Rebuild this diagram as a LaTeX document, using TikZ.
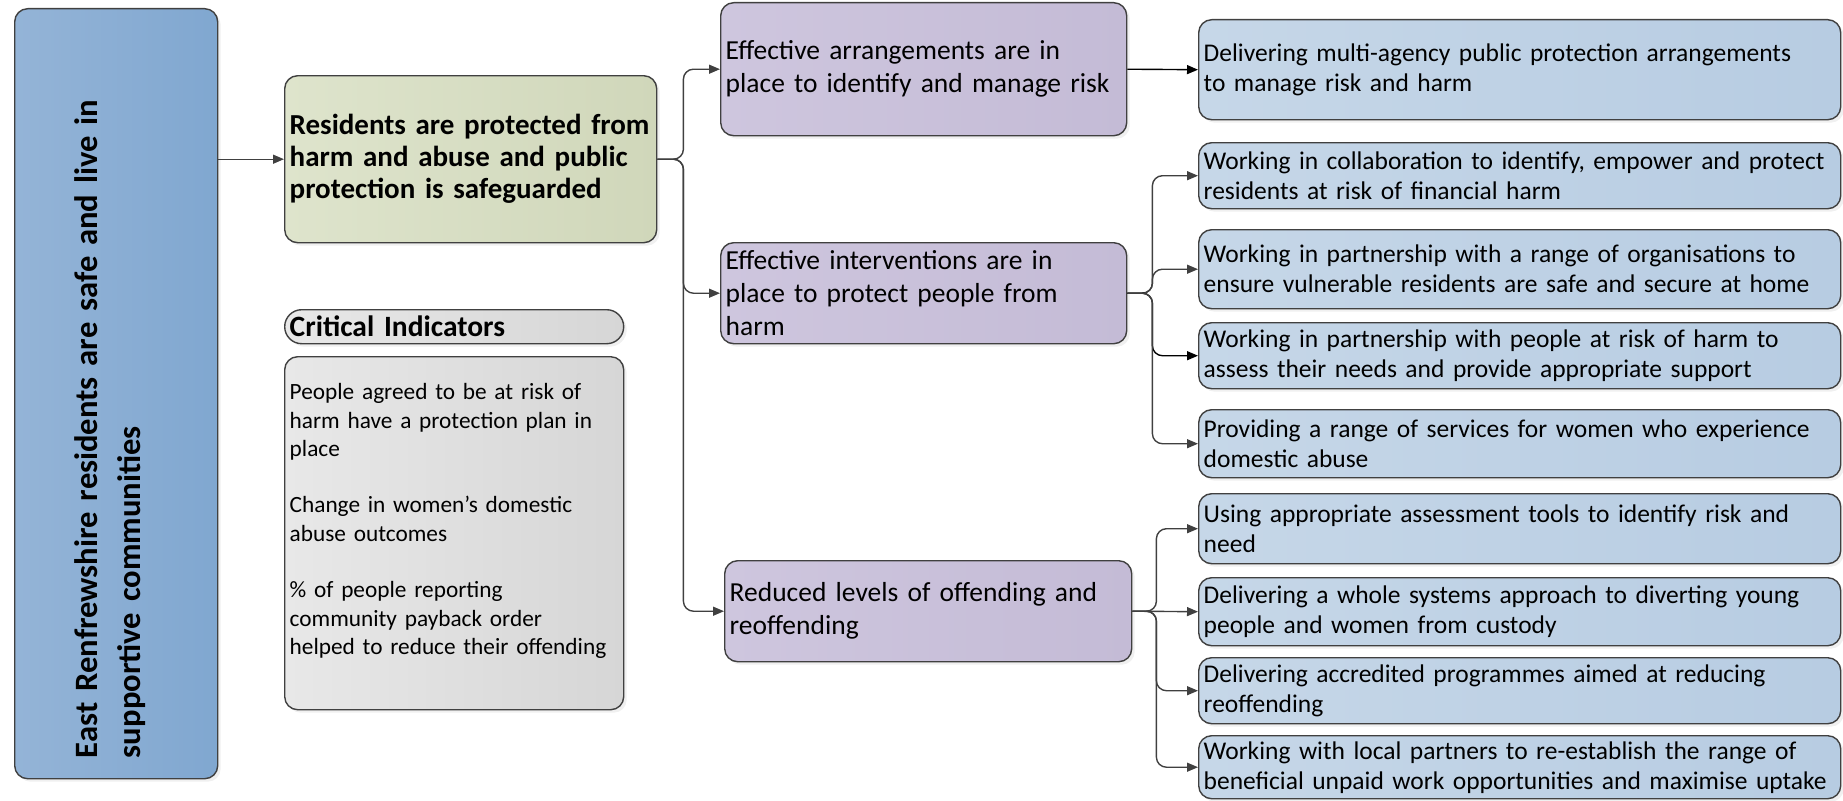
\documentclass[tikz,border=0pt]{standalone}
\usepackage{fontspec}
\setmainfont{Carlito}
\usetikzlibrary{arrows.meta,shadows}

\definecolor{lineg}{RGB}{64,64,64}
\definecolor{lbA}{RGB}{148,180,215}
\definecolor{lbB}{RGB}{128,167,208}
\definecolor{grA}{RGB}{222,228,204}
\definecolor{grB}{RGB}{208,215,186}
\definecolor{gyA}{RGB}{232,232,232}
\definecolor{gyB}{RGB}{214,214,214}
\definecolor{puA}{RGB}{206,198,222}
\definecolor{puB}{RGB}{196,187,214}
\definecolor{blA}{RGB}{198,215,232}
\definecolor{blB}{RGB}{183,204,226}

\begin{document}
\begin{tikzpicture}[x=1pt,y=-1pt,
  box/.style={draw=lineg, line width=1.4pt, rounded corners=13pt, anchor=north west,
    inner xsep=5pt, inner ysep=0pt, align=left,
    drop shadow={shadow xshift=3pt, shadow yshift=-3pt, opacity=0.12}},
  aim/.style={box, left color=puA, right color=puB, text width=396pt,
    font=\fontsize{27.5}{33}\selectfont},
  outc/.style={box, left color=blA, right color=blB, text width=632pt,
    font=\fontsize{25.5}{30}\selectfont},
  link/.style={lineg, line width=1.4pt, rounded corners=10pt, -{Triangle[length=11pt,width=9pt]}}]
\useasboundingbox (0,0) rectangle (1843,800);

% outcome and goal
\node[box, minimum width=203pt, minimum height=770pt, left color=lbA, right color=lbB] (top) at (14,8) {};
\node[rotate=90, text width=690pt, align=left, font=\fontsize{32.6}{43}\selectfont\bfseries] (toptxt) at (110,413)
  {East Renfrewshire residents are safe and live in\\ supportive communities};
\node[box, minimum height=167pt, text width=362pt, left color=grA, right color=grB,
  font=\fontsize{29}{32}\selectfont\bfseries] (goal) at (284,75)
  {Residents are protected from\\ harm and abuse and public\\ protection is safeguarded};
\node[box, minimum height=34pt, text width=329pt, rounded corners=17pt, left color=gyA, right color=gyB,
  font=\fontsize{29.5}{30}\selectfont\bfseries] (crit) at (284,309) {Critical Indicators};
\node[box, minimum height=353pt, text width=329pt, left color=gyA, right color=gyB,
  font=\fontsize{23.3}{28.3}\selectfont] (ind) at (284,356)
  {People agreed to be at risk of\\ harm have a protection plan in\\ place\\[28.3pt]
   Change in women’s domestic\\ abuse outcomes\\[28.3pt]
   \% of people reporting\\ community payback order\\ helped to reduce their offending\\ \mbox{}};

% aims
\node[aim, minimum height=133pt] (arr) at (720,2) {Effective arrangements are in\\ place to identify and manage risk};
\node[aim, minimum height=101pt] (int) at (720,242) {Effective interventions are in\\ place to protect people from\\ harm};
\node[aim, minimum height=101pt, text width=397pt] (red) at (724,560) {Reduced levels of offending and\\ reoffending};

% outcomes
\node[outc, minimum height=100pt] (mappa) at (1198,19) {Delivering multi-agency public protection arrangements\\ to manage risk and harm};
\node[outc, minimum height=66pt] (fin) at (1198,142) {Working in collaboration to identify, empower and protect\\ residents at risk of financial harm};
\node[outc, minimum height=79pt] (home) at (1198,229) {Working in partnership with a range of organisations to\\ ensure vulnerable residents are safe and secure at home};
\node[outc, minimum height=66pt] (need) at (1198,322) {Working in partnership with people at risk of harm to\\ assess their needs and provide appropriate support};
\node[outc, minimum height=68pt] (women) at (1198,409) {Providing a range of services for women who experience\\ domestic abuse};
\node[outc, minimum height=70pt] (tools) at (1198,493) {Using appropriate assessment tools to identify risk and\\ need};
\node[outc, minimum height=68pt] (custody) at (1198,577) {Delivering a whole systems approach to diverting young\\ people and women from custody};
\node[outc, minimum height=66pt] (prog) at (1198,657) {Delivering accredited programmes aimed at reducing\\ reoffending};
\node[outc, minimum height=63pt] (unpaid) at (1198,735) {Working with local partners to re-establish the range of\\ beneficial unpaid work opportunities and maximise uptake};

\draw[link] (top.east |- goal.west) -- (goal.west);
\draw[link] (goal.east) -- ++(26,0) |- (arr.west);
\draw[link] (goal.east) -- ++(26,0) |- (int.west);
\draw[link] (goal.east) -- ++(26,0) |- (red.west);
\draw[link, black] (arr.east) -- (mappa.west);
\draw[link] (int.east) -- ++(25,0) |- (fin.west);
\draw[link] (int.east) -- ++(25,0) |- (home.west);
\draw[link, black] (int.east) -- ++(25,0) |- (need.west);
\draw[link] (int.east) -- ++(25,0) |- (women.west);
\draw[link] (red.east) -- ++(24,0) |- (tools.west);
\draw[link] (red.east) -- (custody.west);
\draw[link] (red.east) -- ++(24,0) |- (prog.west);
\draw[link] (red.east) -- ++(24,0) |- (unpaid.west);
\end{tikzpicture}
\end{document}
